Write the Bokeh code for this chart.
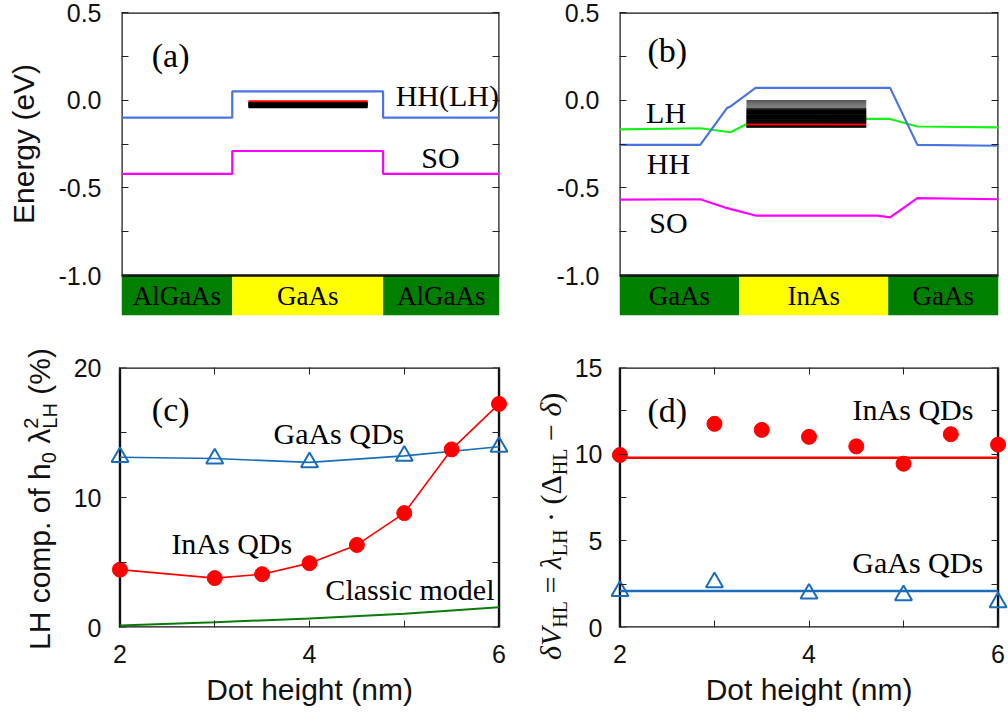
from bokeh.plotting import figure
from bokeh.models import Range1d, LinearAxis, FixedTicker, Label, NumeralTickFormatter, Div
from bokeh.layouts import column, row
from bokeh.embed import file_html
from bokeh.resources import INLINE
from bokeh.core.properties import value

# ---------------- data ----------------
# (a) GaAs QD in AlGaAs: valence band edges along the growth direction (position units 0-10)
a_pos = [0.0, 2.93, 2.93, 6.92, 6.92, 10.0]
a_hh = [-0.10, -0.10, 0.05, 0.05, -0.10, -0.10]
a_so = [-0.42, -0.42, -0.29, -0.29, -0.42, -0.42]
a_layers = ["AlGaAs", "GaAs", "AlGaAs"]
a_layer_edges = [0.0, 2.93, 6.92, 10.0]
a_level_span = [3.36, 6.51]
a_levels_black = [-0.012, -0.016, -0.020, -0.024, -0.028, -0.032, -0.036, -0.040]
a_levels_red = [-0.006]

# (b) InAs QD in GaAs
b_hh_pos = [0.0, 2.13, 2.84, 2.93, 3.59, 7.14, 7.86, 10.0]
b_hh = [-0.255, -0.255, -0.044, -0.036, 0.07, 0.07, -0.255, -0.26]
b_lh_pos = [0.0, 2.13, 2.93, 3.37, 6.51, 7.14, 7.86, 10.0]
b_lh = [-0.167, -0.16, -0.183, -0.135, -0.107, -0.107, -0.15, -0.155]
b_so_pos = [0.0, 2.13, 2.84, 3.59, 6.80, 7.14, 7.86, 10.0]
b_so = [-0.567, -0.565, -0.616, -0.658, -0.658, -0.668, -0.559, -0.565]
b_layers = ["GaAs", "InAs", "GaAs"]
b_layer_edges = [0.0, 3.16, 7.09, 10.0]
b_level_span = [3.35, 6.51]
b_levels_upper = [-0.002, -0.008, -0.014, -0.020, -0.026, -0.032, -0.038, -0.044]
b_levels_lower = [-0.050, -0.055, -0.060, -0.065, -0.070, -0.075, -0.080, -0.084,
                  -0.088, -0.092, -0.096, -0.100, -0.104, -0.108, -0.112, -0.116,
                  -0.120, -0.124, -0.128, -0.132, -0.145, -0.150, -0.154]
b_levels_red = [-0.139]

# (c) LH component of the ground hole state (%)
c_h_gaas = [2, 3, 4, 5, 6]
c_gaas = [13.1, 13.0, 12.7, 13.2, 13.9]
c_h_inas = [2, 3, 3.5, 4, 4.5, 5, 5.5, 6]
c_inas = [4.45, 3.8, 4.1, 4.95, 6.35, 8.8, 13.7, 17.2]
c_h_classic = [2, 3, 4, 5, 6]
c_classic = [0.15, 0.4, 0.7, 1.05, 1.55]

# (d) delta V_HL
d_h_inas = [2, 3, 3.5, 4, 4.5, 5, 5.5, 6]
d_inas = [9.95, 11.75, 11.4, 11.0, 10.45, 9.45, 11.15, 10.55]
d_h_gaas = [2, 3, 4, 5, 6]
d_gaas = [2.1, 2.6, 1.95, 1.85, 1.45]
d_fit_h = [2, 6]
d_inas_fit = 9.8
d_gaas_fit = 2.1

# axes
e_lim = (-1.0, 0.5)
e_ticks, e_minor = [-1.0, -0.5, 0.0, 0.5], [-0.75, -0.25, 0.25]
h_lim = (2, 6)
h_ticks, h_minor = [2, 4, 6], [3, 5]
c_lim = (0, 20)
c_ticks, c_minor = [0, 10, 20], [5, 15]
d_lim = (0, 15)
d_ticks, d_minor = [0, 5, 10, 15], [2.5, 7.5, 12.5]

SANS = "Liberation Sans"
SERIF = "Liberation Serif"
GREEN_BAND = "#007f00"
YELLOW = "#ffff00"
HH_BLUE = "#4a74e0"
MAGENTA = "#ff00ff"
LH_GREEN = "#19f019"
RED = "#ff0000"
BLUE = "#1a6db8"
DGREEN = "#0a7a0a"
TXT = "#111111"
TICK = "#222222"

TOP_H = 335
BOT_H = 386


def base_fig(width, height, xr, yr, l, r, t, b):
    p = figure(width=width, height=height, x_range=Range1d(*xr), y_range=Range1d(*yr),
               output_backend="svg", toolbar_location=None, title=None,
               x_axis_location=None, y_axis_location=None,
               min_border_left=l, min_border_right=r, min_border_top=t, min_border_bottom=b)
    p.outline_line_color = None
    p.grid.visible = False
    p.background_fill_color = "white"
    p.border_fill_color = "white"
    return p


def add_axis(p, side, ticks, minor, labels=True, ticks_on=True, loc=None, standoff=20,
             fmt=None, label=None, label_standoff=7):
    ax = LinearAxis(ticker=FixedTicker(ticks=ticks, minor_ticks=minor), axis_line_color=None)
    if ticks_on:
        ax.major_tick_in, ax.major_tick_out = 7, 0
        ax.minor_tick_in, ax.minor_tick_out = 7, 0
        ax.major_tick_line_color = TICK
        ax.minor_tick_line_color = TICK
    else:
        ax.major_tick_in, ax.major_tick_out = 0, 0
        ax.minor_tick_in, ax.minor_tick_out = 0, 0
        ax.major_tick_line_color = None
        ax.minor_tick_line_color = None
    if loc is not None:
        ax.fixed_location = loc
    if fmt is not None:
        ax.formatter = fmt
    if labels:
        ax.major_label_text_font = SANS
        ax.major_label_text_font_size = "25px"
        ax.major_label_text_color = TXT
        ax.major_label_standoff = standoff
    else:
        ax.major_label_text_font_size = "1px"
        ax.major_label_text_color = None
        ax.major_label_standoff = 0
    if label:
        ax.axis_label = label
        ax.axis_label_text_font = SANS
        ax.axis_label_text_font_size = "30px"
        ax.axis_label_text_font_style = "normal"
        ax.axis_label_text_color = TXT
        ax.axis_label_standoff = label_standoff
    p.add_layout(ax, side)
    return ax


def lab(p, x, y, text, size=30, font=SERIF):
    p.add_layout(Label(x=x, y=y, text=text, text_font=font, text_font_size=f"{size}px",
                       text_align="center", text_baseline="middle", text_color="#000000"))


def vertical_title(width, height, left, top, font, size, html):
    """Rotated (bottom-to-top) title text as HTML; left = line-box edge, top = text start."""
    inner = (f'<div style="position:absolute;left:{left}px;top:{top}px;'
             f'transform-origin:0 0;transform:rotate(-90deg);white-space:nowrap;'
             f"font-family:'{font}';font-size:{size}px;line-height:{size}px;"
             f'color:{TXT};margin:0;padding:0;">{html}</div>')
    text = (f'<div style="position:relative;width:{width}px;height:{height}px;'
            f'overflow:visible;margin:0;padding:0;">{inner}</div>')
    return Div(text=text, width=width, height=height, margin=(0, 0, 0, 0))


def sub(t, shift, size=20, extra=""):
    return (f'<span style="font-size:{size}px;position:relative;top:{shift}px;{extra}">'
            f'{t}</span>')


def band_panel(width, l, r, layers, edges):
    band_bottom = -1.228
    p = base_fig(width, TOP_H, (0, 10), (band_bottom, e_lim[1]), l, r, 12, 20)
    add_axis(p, "left", e_ticks, e_minor, standoff=20, fmt=NumeralTickFormatter(format="0.0"))
    add_axis(p, "right", e_ticks, e_minor, labels=False)
    p.quad(left=edges[:-1], right=edges[1:], bottom=band_bottom, top=e_lim[0],
           fill_color=[GREEN_BAND, YELLOW, GREEN_BAND], line_color=None)
    centers = [(edges[i] + edges[i + 1]) / 2 for i in range(len(layers))]
    p.text(x=centers, y=[-1.118] * len(layers), text=layers, text_font=value(SERIF),
           text_font_size="27px", text_align="center", text_baseline="middle",
           text_color="#000000")
    p.quad(left=[0], right=[10], bottom=[e_lim[0]], top=[e_lim[1]], fill_color=None,
           line_color="#111111", line_width=2.4)
    return p


# ---------------- (a) ----------------
ta = vertical_title(50, TOP_H, 8.6, 224, SANS, 30, "Energy (eV)")

pa = band_panel(458, 71, 9, a_layers, a_layer_edges)
pa.line(a_pos, a_hh, line_color=HH_BLUE, line_width=2.2)
pa.line(a_pos, a_so, line_color=MAGENTA, line_width=2.2)
pa.segment(x0=[a_level_span[0]] * len(a_levels_black), x1=[a_level_span[1]] * len(a_levels_black),
           y0=a_levels_black, y1=a_levels_black, line_color="black", line_width=2)
pa.segment(x0=[a_level_span[0]], x1=[a_level_span[1]], y0=a_levels_red, y1=a_levels_red,
           line_color=RED, line_width=2)
lab(pa, 1.3, 0.255, "(a)", size=34)
lab(pa, 8.62, 0.027, "HH(LH)", size=30)
lab(pa, 8.44, -0.327, "SO", size=30)

# ---------------- (b) ----------------
pb = band_panel(500, 111, 10, b_layers, b_layer_edges)
pb.line(b_lh_pos, b_lh, line_color=LH_GREEN, line_width=2.2)
pb.line(b_hh_pos, b_hh, line_color=HH_BLUE, line_width=2.2)
pb.line(b_so_pos, b_so, line_color=MAGENTA, line_width=2.2)
pb.segment(x0=[b_level_span[0]] * len(b_levels_upper), x1=[b_level_span[1]] * len(b_levels_upper),
           y0=b_levels_upper, y1=b_levels_upper, line_color="#555555", line_width=1)
pb.segment(x0=[b_level_span[0]] * len(b_levels_lower), x1=[b_level_span[1]] * len(b_levels_lower),
           y0=b_levels_lower, y1=b_levels_lower, line_color="black", line_width=1.3)
pb.segment(x0=[b_level_span[0]], x1=[b_level_span[1]], y0=b_levels_red, y1=b_levels_red,
           line_color=RED, line_width=2)
lab(pb, 1.26, 0.283, "(b)", size=34)
lab(pb, 1.23, -0.07, "LH", size=30)
lab(pb, 1.29, -0.361, "HH", size=30)
lab(pb, 1.29, -0.698, "SO", size=30)

# ---------------- (c) ----------------
tc = vertical_title(62, BOT_H, 24.6, 315, SANS, 30,
                    "LH comp. of h" + sub("0", 6) + " λ" + sub("2", -12)
                    + sub("LH", 7, extra="margin-left:-11px;") + " (%)")

pc = base_fig(446, BOT_H, (1.9, 6.1), c_lim, 48, 0, 32, 94)
add_axis(pc, "left", c_ticks, c_minor, ticks_on=False, standoff=9)
add_axis(pc, "left", c_ticks, c_minor, labels=False, loc=h_lim[0])
add_axis(pc, "right", c_ticks, c_minor, labels=False, loc=h_lim[1])
add_axis(pc, "below", h_ticks, h_minor, standoff=17, label="Dot height (nm)", label_standoff=7)
add_axis(pc, "above", h_ticks, h_minor, labels=False)
pc.quad(left=[h_lim[0]], right=[h_lim[1]], bottom=[c_lim[0]], top=[c_lim[1]], fill_color=None,
        line_color="#111111", line_width=2.4)
pc.line(c_h_classic, c_classic, line_color=DGREEN, line_width=2)
pc.line(c_h_gaas, c_gaas, line_color=BLUE, line_width=1.6)
pc.scatter(c_h_gaas, c_gaas, marker="triangle", size=17, fill_color=None, line_color=BLUE,
           line_width=2)
pc.line(c_h_inas, c_inas, line_color=RED, line_width=1.6)
pc.scatter(c_h_inas, c_inas, marker="circle", size=15, fill_color=RED, line_color=RED)
lab(pc, 2.535, 16.8, "(c)", size=34)
lab(pc, 4.31, 14.9, "GaAs QDs", size=30)
lab(pc, 3.18, 6.44, "InAs QDs", size=30)
lab(pc, 5.06, 2.9, "Classic model", size=30)

# ---------------- (d) ----------------
td = vertical_title(63, BOT_H, 27.9, 325, SERIF, 30,
                    "<i>δV</i>" + sub("HL", 6) + " = <i>λ</i>" + sub("LH", 6)
                    + " · (Δ" + sub("HL", 6) + " − <i>δ</i>)")

pd_ = base_fig(437, BOT_H, (1.9, 6.1), d_lim, 37, 1, 32, 94)
add_axis(pd_, "left", d_ticks, d_minor, ticks_on=False, standoff=8)
add_axis(pd_, "left", d_ticks, d_minor, labels=False, loc=h_lim[0])
add_axis(pd_, "right", d_ticks, d_minor, labels=False, loc=h_lim[1])
add_axis(pd_, "below", h_ticks, h_minor, standoff=17, label="Dot height (nm)", label_standoff=7)
add_axis(pd_, "above", h_ticks, h_minor, labels=False)
pd_.quad(left=[h_lim[0]], right=[h_lim[1]], bottom=[d_lim[0]], top=[d_lim[1]], fill_color=None,
         line_color="#111111", line_width=2.4)
pd_.line(d_fit_h, [d_inas_fit] * 2, line_color=RED, line_width=2.5)
pd_.line(d_fit_h, [d_gaas_fit] * 2, line_color=BLUE, line_width=2.5)
pd_.scatter(d_h_inas, d_inas, marker="circle", size=15, fill_color=RED, line_color=RED)
pd_.scatter(d_h_gaas, d_gaas, marker="triangle", size=17, fill_color=None, line_color=BLUE,
            line_width=2)
lab(pd_, 2.5, 12.5, "(d)", size=34)
lab(pd_, 5.1, 12.6, "InAs QDs", size=30)
lab(pd_, 5.15, 3.73, "GaAs QDs", size=30)

layout = column(row(ta, pa, pb), row(tc, pc, td, pd_))
open("out.html", "w").write(file_html(layout, INLINE))
